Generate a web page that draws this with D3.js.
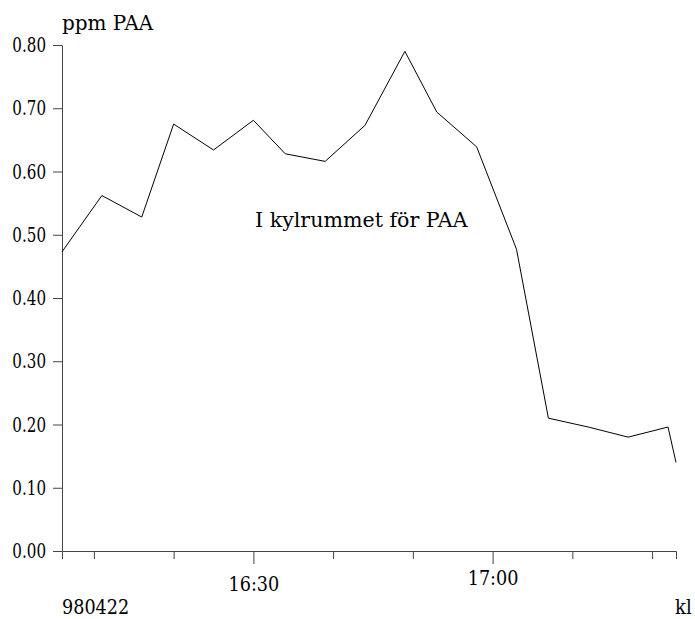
<!DOCTYPE html>
<html>
<head>
<meta charset="utf-8">
<script src="https://cdn.jsdelivr.net/npm/d3@7"></script>
<style>
  body { margin: 0; background: #fff; }
  .axis path, .axis line { stroke: #444; }
</style>
</head>
<body>
<script>
(function(){

    //measurement times (kl) and PAA readings in ppm
    var times = ["16:06", "16:11", "16:16", "16:20", "16:25", "16:30", "16:34", "16:39", "16:44",
                 "16:49", "16:53", "16:58", "17:03", "17:07", "17:12", "17:17", "17:22", "17:23"];
    var ppm = [0.473, 0.562, 0.528, 0.675, 0.634, 0.681, 0.628, 0.616, 0.673,
               0.790, 0.694, 0.639, 0.477, 0.210, 0.196, 0.180, 0.196, 0.140];
    var yTicks = [0, 0.1, 0.2, 0.3, 0.4, 0.5, 0.6, 0.7, 0.8];
    var labelledTimes = ["16:30", "17:00"];

    var width = 695,
        height = 619,
        left = 62,
        right = 676,
        top = 45,
        bottom = 551,
        font = "'DejaVu Serif', 'Liberation Serif', serif";

    var parse = d3.timeParse("%H:%M"),
        fmt = d3.timeFormat("%H:%M");

    var data = times.map(function(t, i){
        return { t: parse(t), v: ppm[i] };
    });

    var svg = d3.select("body")
        .append("svg")
        .attr("width", width)
        .attr("height", height);

    //narrow a text horizontally (the original font is a condensed serif)
    function squeeze(sel, size, sx){
        sel.style("font-family", font)
            .style("font-size", size + "px")
            .each(function(){
                var w = this.getComputedTextLength();
                if (w > 0) {
                    d3.select(this)
                        .attr("textLength", w * sx)
                        .attr("lengthAdjust", "spacingAndGlyphs");
                }
            });
    }

    var x = d3.scaleTime()
        .domain([parse(times[0]), parse(times[times.length - 1])])
        .range([left, right]);

    var y = d3.scaleLinear()
        .domain([0, 0.8])
        .range([bottom, top]);

    //y axis
    var yAxis = svg.append("g")
        .attr("class", "axis")
        .attr("transform", "translate(" + left + ",0)")
        .call(d3.axisLeft(y).tickValues(yTicks).tickSize(9).tickSizeOuter(0).tickPadding(7)
            .tickFormat(d3.format(".2f")));
    yAxis.attr("font-family", null).attr("font-size", null);
    squeeze(yAxis.selectAll("text"), 21, 0.72);

    //x axis, ticks every 10 minutes, longer ticks where labelled
    var xTicks = d3.timeMinute.every(10).range(parse("16:10"), parse("17:21"));
    var xAxis = svg.append("g")
        .attr("class", "axis")
        .attr("transform", "translate(0," + bottom + ")")
        .call(d3.axisBottom(x).tickValues(xTicks).tickSizeOuter(0)
            .tickSize(8).tickPadding(10)
            .tickFormat(function(d){
                return labelledTimes.indexOf(fmt(d)) >= 0 ? fmt(d) : "";
            }));
    xAxis.attr("font-family", null).attr("font-size", null);
    xAxis.selectAll(".tick line")
        .attr("y2", function(d){ return labelledTimes.indexOf(fmt(d)) >= 0 ? 13 : 8; });
    xAxis.selectAll("text")
        .attr("dy", null)
        .attr("y", function(d){ return fmt(d) === "17:00" ? 34 : 40; });
    squeeze(xAxis.selectAll("text"), 21, 0.84);

    //the line
    var line = d3.line()
        .x(function(d){ return x(d.t); })
        .y(function(d){ return y(d.v); });

    svg.append("path")
        .datum(data)
        .attr("d", line)
        .attr("fill", "none")
        .attr("stroke", "#000")
        .attr("stroke-width", 1);

    //labels
    function label(tx, ty, s, size, sx){
        var t = svg.append("text")
            .attr("x", tx).attr("y", ty)
            .text(s);
        squeeze(t, size, sx);
    }
    label(62, 30, "ppm PAA", 21, 0.95);
    label(255, 227, "I kylrummet för PAA", 21, 0.98);
    label(62, 614, "980422", 20, 0.88);
    label(675, 614, "kl", 20, 0.9);

})();
</script>
</body>
</html>
